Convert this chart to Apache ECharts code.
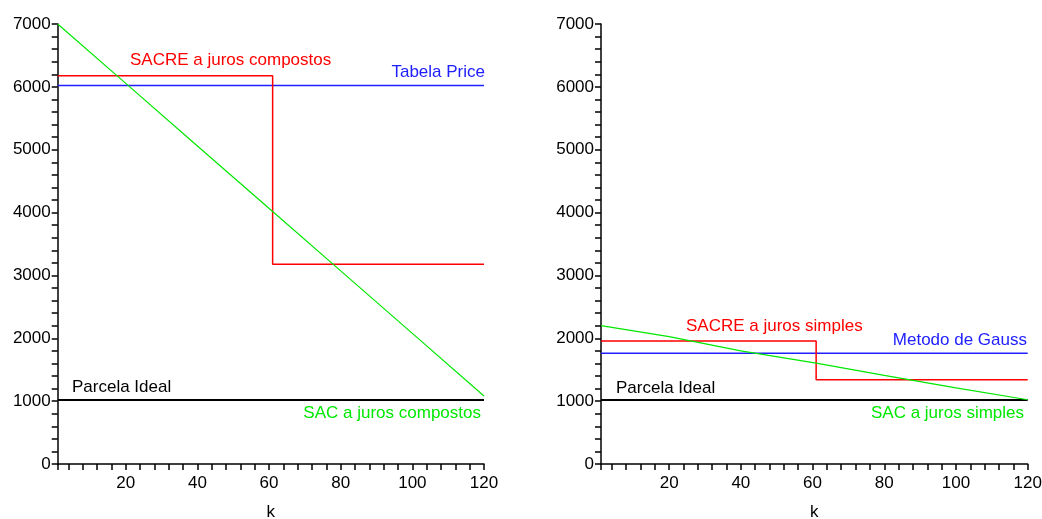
<!DOCTYPE html>
<html>
<head>
<meta charset="utf-8">
<script src="https://cdn.jsdelivr.net/npm/echarts@6/dist/echarts.min.js"></script>
<style>
  html, body { margin: 0; padding: 0; background: #fff; }
  #chart { width: 1042px; height: 519px; }
</style>
</head>
<body>
<div id="chart"></div>
<script>
// valores
var kSac = [1, 20, 40, 61, 80, 100, 120];
var sacCompostos = [7000, 6055, 5060, 4016, 3072, 2078, 1083];
var sacSimples = [2200, 2027, 1800, 1606, 1410, 1212, 1022];

var kStep = [1, 61, 61, 120];
var sacreCompostos = [6177, 6177, 3177, 3177];
var sacreSimples = [1955, 1955, 1339, 1339];

var kEnds = [1, 120];
var tabelaPrice = [6021, 6021];
var metodoGauss = [1762, 1762];
var parcelaIdeal = [1020, 1020];

var xLabels = [20, 40, 60, 80, 100, 120];
var yLabels = [0, 1000, 2000, 3000, 4000, 5000, 6000, 7000];

var FONT = 'Liberation Sans, Arial, sans-serif';
var FS = 17;

function pairs(xs, ys) {
	return xs.map(function(x, i) { return [x, ys[i]]; });
}

var xTicks = [1];
for (var t = 4; t <= 120; t += 4) xTicks.push(t);
var yTicks = [];
for (var v = 0; v <= 7000; v += 200) yTicks.push(v);

function xAxisFor(idx) {
	return {
		gridIndex : idx,
		type : 'value',
		min : 1,
		max : 120,
		name : 'k',
		nameLocation : 'middle',
		nameGap : 40,
		nameTextStyle : { fontFamily : FONT, fontSize : FS, color : '#000' },
		axisLine : { lineStyle : { color : '#000', width : 1.5 } },
		axisTick : { show : true, inside : false, length : 6, customValues : xTicks, lineStyle : { color : '#000', width : 1.5 } },
		axisLabel : { customValues : xLabels, margin : 11, fontFamily : FONT, fontSize : FS, color : '#000',
			formatter : function(val) { return String(val); } },
		splitLine : { show : false }
	};
}

function yAxisFor(idx) {
	return {
		gridIndex : idx,
		type : 'value',
		min : 0,
		max : 7000,
		axisLine : { show : true, lineStyle : { color : '#000', width : 1.5 } },
		axisTick : { show : true, inside : false, length : 6, customValues : yTicks, lineStyle : { color : '#000', width : 1.5 } },
		axisLabel : { customValues : yLabels, margin : 7, fontFamily : FONT, fontSize : FS, color : '#000',
			formatter : function(val) { return String(val); } },
		splitLine : { show : false }
	};
}

function line(idx, data, color, width) {
	return {
		type : 'line',
		xAxisIndex : idx,
		yAxisIndex : idx,
		data : data,
		symbol : 'none',
		silent : true,
		lineStyle : { color : color, width : width }
	};
}

function note(x, y, text, color, align) {
	return {
		type : 'text',
		x : x,
		y : y,
		style : { text : text, fill : color, font : FS + 'px ' + FONT, textAlign : align || 'left', textVerticalAlign : 'middle' }
	};
}

var chart = echarts.init(document.getElementById('chart'));
chart.setOption({
	animation : false,
	grid : [
		{ left : 57.7, top : 24, width : 426.3, height : 440, outerBoundsMode : 'none' },
		{ left : 601, top : 24, width : 426.7, height : 440, outerBoundsMode : 'none' }
	],
	xAxis : [ xAxisFor(0), xAxisFor(1) ],
	yAxis : [ yAxisFor(0), yAxisFor(1) ],
	series : [
		line(0, pairs(kEnds, parcelaIdeal), '#000000', 2),
		line(0, pairs(kEnds, tabelaPrice), '#2020ff', 1.5),
		line(0, pairs(kStep, sacreCompostos), '#ff0000', 1.5),
		line(0, pairs(kSac, sacCompostos), '#00e800', 1.2),
		line(1, pairs(kEnds, parcelaIdeal), '#000000', 2),
		line(1, pairs(kEnds, metodoGauss), '#2020ff', 1.5),
		line(1, pairs(kStep, sacreSimples), '#ff0000', 1.5),
		line(1, pairs(kSac, sacSimples), '#00e800', 1.2)
	],
	graphic : [
		note(130, 60, 'SACRE a juros compostos', '#ff0000'),
		note(485, 72, 'Tabela Price', '#2020ff', 'right'),
		note(72, 387, 'Parcela Ideal', '#000000'),
		note(481, 413, 'SAC a juros compostos', '#00e800', 'right'),
		note(686, 326, 'SACRE a juros simples', '#ff0000'),
		note(1027, 340, 'Metodo de Gauss', '#2020ff', 'right'),
		note(616, 388, 'Parcela Ideal', '#000000'),
		note(1024, 413, 'SAC a juros simples', '#00e800', 'right')
	]
});
</script>
</body>
</html>
